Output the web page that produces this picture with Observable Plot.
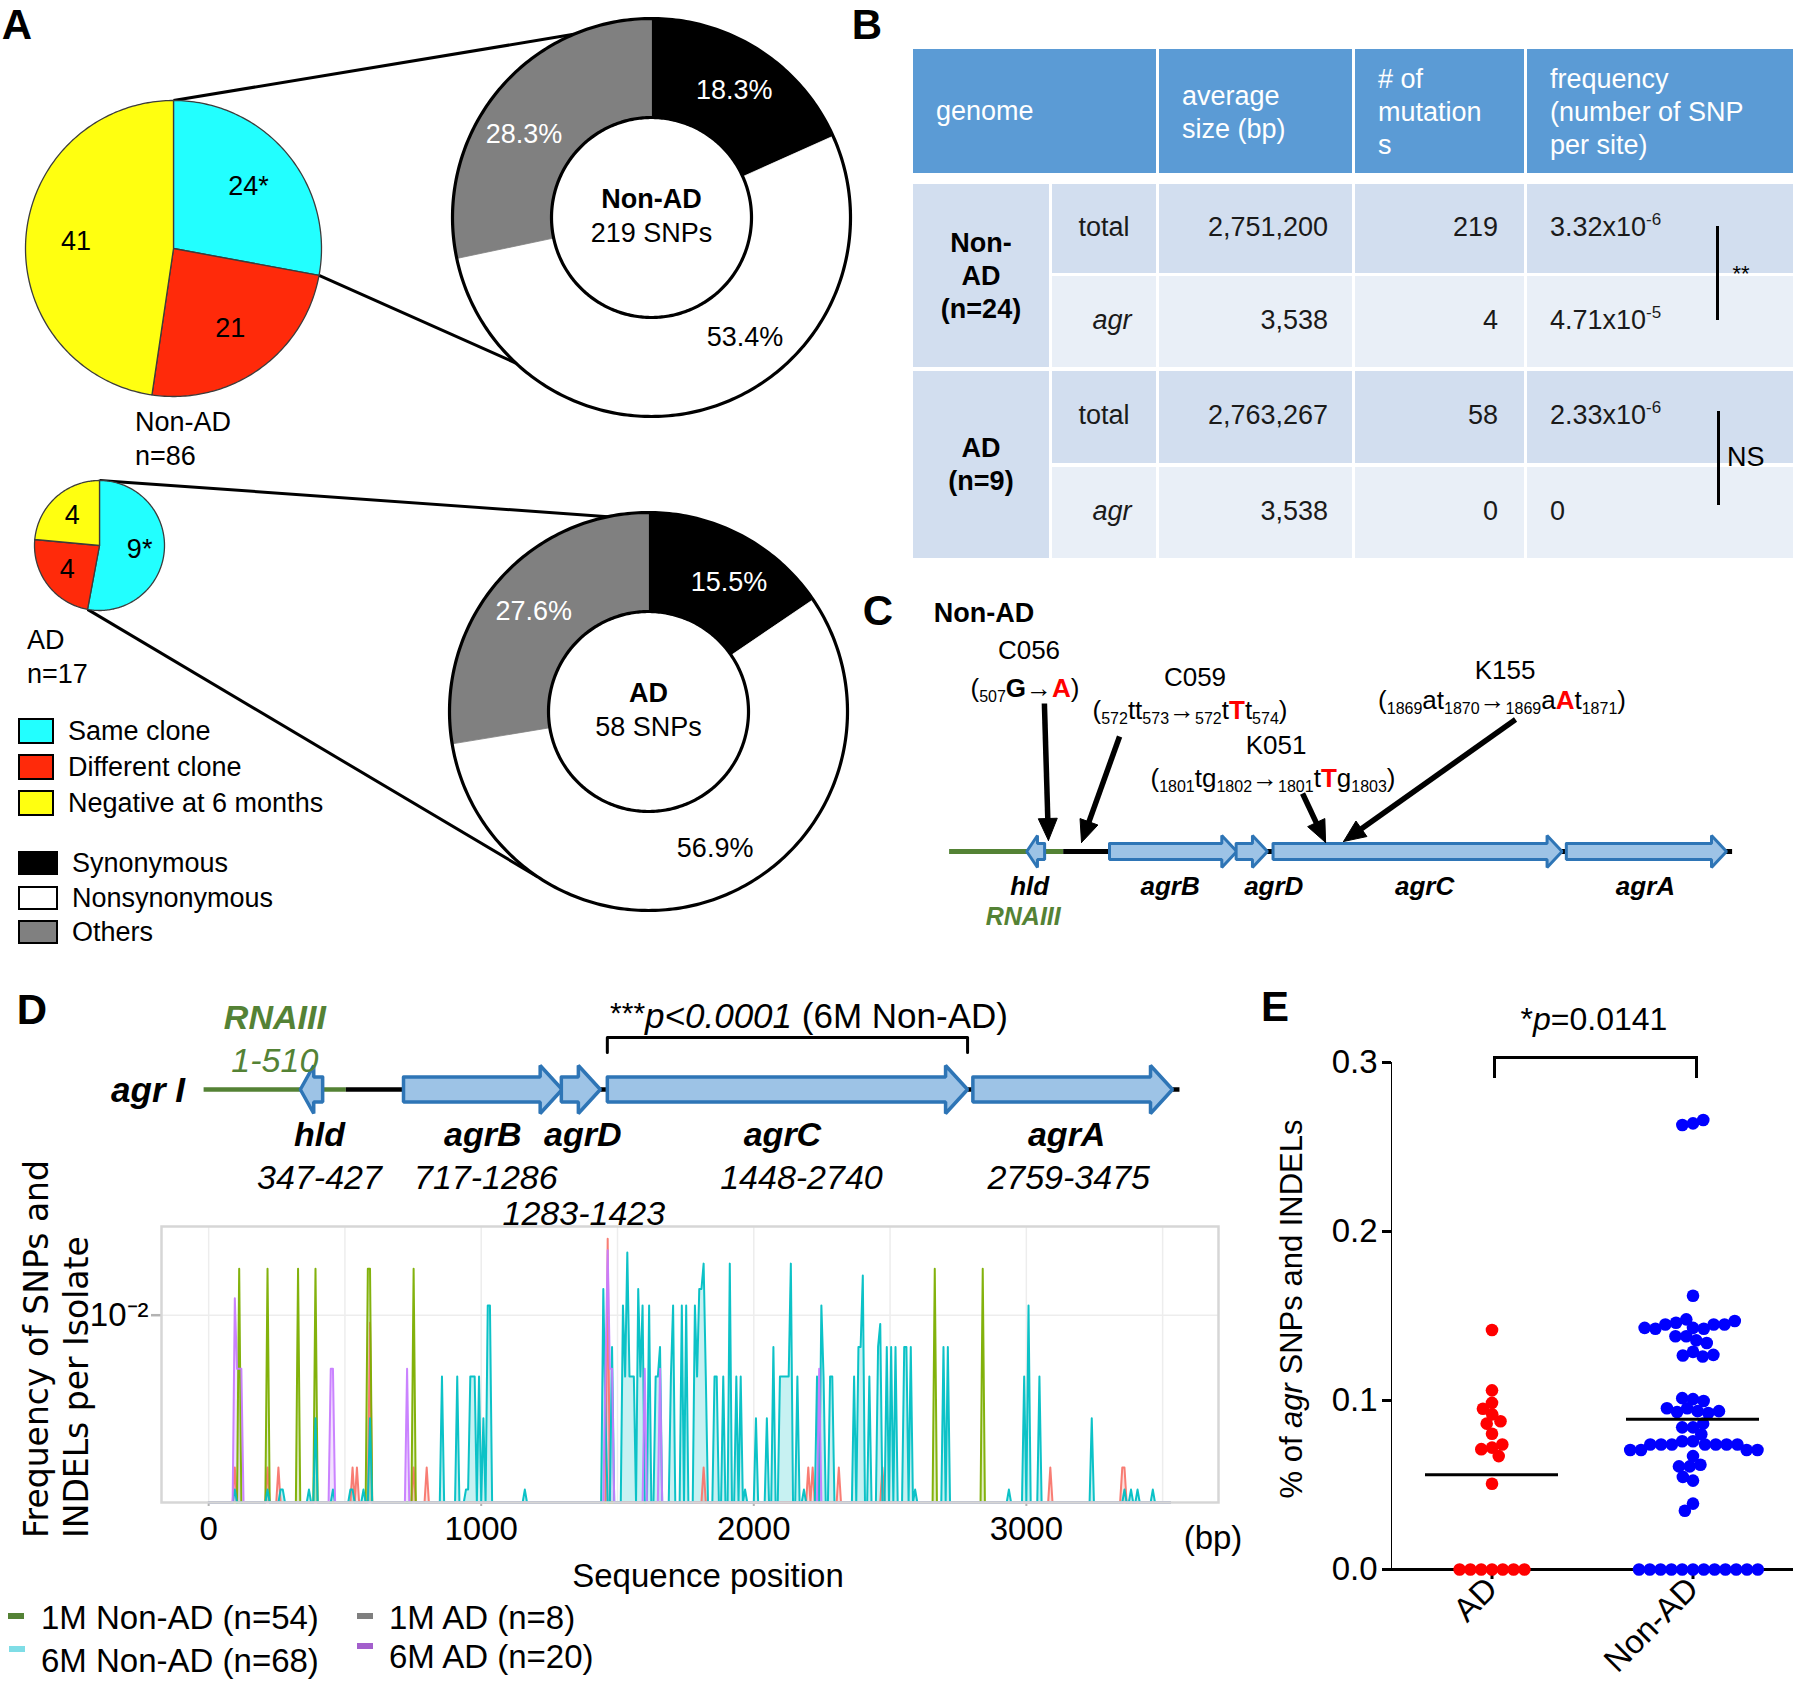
<!DOCTYPE html>
<html>
<head>
<meta charset="utf-8">
<title>agr mutations in AD / Non-AD isolates</title>
<script src="https://cdn.jsdelivr.net/npm/d3@7"></script>
<script src="https://cdn.jsdelivr.net/npm/@observablehq/plot@0.6"></script>
<style>
  html, body { margin: 0; padding: 0; background: #fff; }
  #fig { position: relative; width: 1800px; height: 1690px; overflow: hidden; background: #fff;
         font-family: "Liberation Sans", Arial, Helvetica, sans-serif; color: #000; }
  #fig .t { position: absolute; white-space: nowrap; line-height: 1; }
  #fig .t sub { font-size: 16px; vertical-align: -5px; line-height: 0; }
  #fig .t sup { font-size: 17px; vertical-align: 11px; line-height: 0; }
  #fig .box { position: absolute; box-sizing: border-box; }
  #fig .pw { position: absolute; }
  #fig .pw svg { display: block; overflow: visible; max-width: none; }
  #plotE [aria-label^="y-axis"] path, #plotE [aria-label^="y-axis"] line,
  #plotE [aria-label^="fx-axis"] path, #plotE [aria-label^="fx-axis"] line { stroke-width: 3px; }
  #plotD [aria-label^="y-axis tick"] path, #plotD [aria-label^="y-axis tick"] line { stroke: #b3b3b3; stroke-width: 2.5px; }
  #plotD [aria-label^="x-axis tick"] path, #plotD [aria-label^="x-axis tick"] line { stroke: #b3b3b3; stroke-width: 2px; }
</style>
</head>
<body>
<div id="fig"></div>
<script>
// ===================== DATA =====================
// ---- Panel A : clone outcome pies and SNP type donuts ----
const groupNames = ["Non-AD", "AD"];
const groupTotals = [86, 17];
const cloneCategories = ["Same clone", "Different clone", "Negative at 6 months"];
const cloneColors = ["#22FFFF", "#FF2A0A", "#FFFF10"];
const cloneNonAD = [24, 21, 41];
const cloneAD = [9, 4, 4];
const cloneMarks = ["*", "", ""];
const mutCategories = ["Synonymous", "Nonsynonymous", "Others"];
const mutColors = ["#000000", "#FFFFFF", "#808080"];
const mutLabelColors = ["#FFFFFF", "#000000", "#FFFFFF"];
const mutNonAD = [18.3, 53.4, 28.3];
const mutAD = [15.5, 56.9, 27.6];
const snpTotals = [219, 58];

// ---- Panel B : table ----
const tableHeaderLines = [["genome"], ["average", "size (bp)"], ["# of", "mutation", "s"], ["frequency", "(number of SNP", "per site)"]];
const tableGroups = [["Non-", "AD", "(n=24)"], ["AD", "(n=9)"]];
const tableRowType = ["total", "agr", "total", "agr"];
const tableSize = ["2,751,200", "3,538", "2,763,267", "3,538"];
const tableMutations = [219, 4, 58, 0];
const tableFreqBase = ["3.32x10", "4.71x10", "2.33x10", "0"];
const tableFreqExp = ["-6", "-5", "-6", ""];
const tableSig = ["**", "NS"];

// ---- Panels C / D : agr locus ----
const geneNames = ["hld", "agrB", "agrD", "agrC", "agrA"];
const geneStart = [347, 717, 1283, 1448, 2759];
const geneEnd = [427, 1286, 1423, 2740, 3475];
const geneStrand = [-1, 1, 1, 1, 1];
const rnaIII = [1, 510];
const locusEnd = 3500;
const mutIsolates = ["C056", "C059", "K051", "K155"];
const mutChanges = [
  "(<sub>507</sub><b>G</b>→<b style='color:#f00'>A</b>)",
  "(<sub>572</sub>tt<sub>573</sub>→<sub>572</sub>t<b style='color:#f00'>T</b>t<sub>574</sub>)",
  "(<sub>1801</sub>tg<sub>1802</sub>→<sub>1801</sub>t<b style='color:#f00'>T</b>g<sub>1803</sub>)",
  "(<sub>1869</sub>at<sub>1870</sub>→<sub>1869</sub>a<b style='color:#f00'>A</b>t<sub>1871</sub>)"
];

// ---- Panel D : SNP / INDEL frequency along agr (position bp, frequency) ----
const seriesNames = ["1M AD", "1M Non-AD", "6M Non-AD", "6M AD"];
const seriesColors = ["#F8766D", "#7CAE00", "#00BFC4", "#C77CFF"];
const spikes1MAD = [[96,.00228],[216,.00228],[256,.00228],[528,.00228],[544,.00228],[592,.00929],[752,.00228],[800,.00228],
  [1464,.0210],[1816,.00228],[2200,.00228],[2216,.00228],[2312,.00228],[2472,.00228],[3088,.00228],[3352,.00228],[3360,.00228]];
const spikes1MNonAD = [[112,.0157],[216,.0157],[328,.0157],[392,.0157],[584,.0157],[592,.0157],[752,.0157],[2664,.0157],[2840,.0157]];
const spikes6MNonAD = [[96,.00184],[216,.00184],[264,.00184],[272,.00184],[368,.00184],[392,.00368],[456,.00184],[520,.00184],[528,.00184],[568,.00184],[592,.00368],
  [856,.00551],[912,.00551],[944,.00184],[952,.00184],[960,.00551],[968,.00551],[976,.00551],[992,.00551],[1008,.00368],[1024,.0110],[1032,.0110],[1160,.00184],
  [1448,.0129],[1456,.00368],[1480,.00735],[1520,.0110],[1528,.00551],[1536,.0184],[1544,.00551],[1552,.00551],[1560,.00551],[1576,.0129],[1584,.00551],[1592,.0110],
  [1616,.0110],[1640,.00551],[1648,.00551],[1656,.00735],[1696,.00551],[1704,.0110],[1736,.0110],[1752,.0110],
  [1784,.0110],[1792,.00551],[1800,.0129],[1808,.0129],[1816,.0165],[1824,.00551],[1856,.00551],[1864,.00551],[1888,.00551],[1912,.0165],[1936,.00551],[1952,.00551],
  [1968,.00184],[2008,.00368],[2048,.00368],[2072,.00735],[2096,.00551],[2104,.00551],[2112,.00551],[2120,.00551],[2128,.00551],[2136,.0165],[2160,.00551],[2184,.00184],
  [2232,.00551],[2248,.0110],[2256,.00551],[2280,.00551],[2288,.00551],[2368,.00551],[2384,.00735],[2392,.00735],[2400,.0147],[2424,.00551],[2456,.00735],[2464,.00919],
  [2488,.00735],[2504,.00735],[2520,.00735],[2552,.00735],[2560,.00735],[2576,.00735],[2592,.00184],[2696,.00735],[2712,.00735],
  [2936,.00184],[2992,.00551],[3008,.0110],[3048,.00551],[3240,.00368],[3360,.00184],[3384,.00184],[3408,.00184],[3464,.00184]];
const spikes6MAD = [[96,.0118],[104,.00594],[112,.00594],[120,.00594],[448,.00594],[456,.00594],[728,.00594],
  [1456,.00594],[1464,.0188],[1472,.00594],[1480,.00594],[1600,.00594],[1656,.00594],[2240,.00594]];
const binWidth = 8;
const xTicksD = [0, 1000, 2000, 3000];
const yTicksD = [0.01];
const legendDLabels = ["1M Non-AD (n=54)", "6M Non-AD (n=68)", "1M AD (n=8)", "6M AD (n=20)"];
const legendDColors = ["#548235", "#7FDDE6", "#7F7F7F", "#A35FCC"];

// ---- Panel E : % of agr SNPs and INDELs per isolate ----
const groupsE = ["AD", "Non-AD"];
const colorsE = ["#FF0000", "#0000FF"];
const valuesAD = [0.1417, 0.106, 0.0986, 0.0951, 0.0918, 0.0863, 0.0877, 0.0803, 0.0721, 0.0712, 0.074, 0.0671, 0.0507,
  0, 0, 0, 0, 0, 0, 0];
const valuesNonAD = [0.264, 0.263, 0.266, 0.162,
  0.143, 0.148, 0.1425, 0.146, 0.145, 0.145, 0.145, 0.1425, 0.147, 0.143,
  0.138, 0.1356, 0.138, 0.134, 0.1288, 0.1266, 0.126, 0.127,
  0.1008, 0.0954, 0.0937, 0.0926, 0.0932, 0.0937, 0.0954, 0.0997, 0.1014,
  0.0841, 0.0841, 0.0863, 0.080,
  0.0759, 0.0759, 0.074, 0.074, 0.074, 0.074, 0.074, 0.074, 0.074, 0.0707, 0.0707, 0.0707, 0.0707, 0.0671,
  0.061, 0.062, 0.061, 0.0526, 0.0548, 0.039, 0.0348,
  0, 0, 0, 0, 0, 0, 0, 0, 0, 0, 0, 0];
const yTicksE = [0, 0.1, 0.2, 0.3];
const pValueE = "0.0141";

// ===================== HELPERS =====================
const SANS = '"Liberation Sans", Arial, Helvetica, sans-serif';
const DEJAVU = '"DejaVu Sans", Verdana, sans-serif';
const fig = document.getElementById("fig");
const rad = Math.PI / 180;

function txt(html, x, y, o = {}) {
  const d = document.createElement("div");
  d.className = "t";
  d.innerHTML = html;
  const s = d.style;
  s.left = x + "px"; s.top = y + "px";
  s.fontSize = (o.size || 27) + "px";
  if (o.weight) s.fontWeight = o.weight;
  if (o.italic) s.fontStyle = "italic";
  if (o.color) s.color = o.color;
  if (o.family) s.fontFamily = o.family;
  const a = o.anchor || "middle";
  const tx = a === "middle" ? "-50%" : a === "end" ? "-100%" : "0";
  s.transform = `translate(${tx},-50%)` + (o.rotate ? ` rotate(${o.rotate}deg)` : "");
  fig.appendChild(d);
  return d;
}
function box(x0, y0, x1, y1, css) {
  const d = document.createElement("div");
  d.className = "box";
  d.style.cssText = `left:${x0}px;top:${y0}px;width:${x1 - x0}px;height:${y1 - y0}px;` + css;
  fig.appendChild(d);
  return d;
}
function mount(plot, left, top, width, id) {
  const w = document.createElement("div");
  w.className = "pw";
  if (id) w.id = id;
  w.style.left = left + "px"; w.style.top = top + "px"; w.style.width = width + "px";
  w.appendChild(plot);
  fig.appendChild(w);
}
const plotStyle = (size) => ({fontFamily: SANS, fontSize: size + "px", background: "transparent", color: "#000", overflow: "visible"});

// ===================== PANEL B (table backgrounds first) =====================
const TB = {cols: [[913, 1049], [1052, 1156], [1159, 1352], [1355, 1524], [1527, 1793]],
            header: [49, 173], rows: [[184, 273], [276, 367], [371, 463], [467, 558]],
            blue: "#5B9BD5", dark: "#D2DEEF", light: "#E9EFF7"};
box(TB.cols[0][0], TB.header[0], TB.cols[1][1], TB.header[1], `background:${TB.blue}`);
for (let c = 2; c < 5; c++) box(TB.cols[c][0], TB.header[0], TB.cols[c][1], TB.header[1], `background:${TB.blue}`);
box(TB.cols[0][0], TB.rows[0][0], TB.cols[0][1], TB.rows[1][1], `background:${TB.dark}`);
box(TB.cols[0][0], TB.rows[2][0], TB.cols[0][1], TB.rows[3][1], `background:${TB.dark}`);
TB.rows.forEach((r, i) => {
  for (let c = 1; c < 5; c++) box(TB.cols[c][0], r[0], TB.cols[c][1], r[1], `background:${i % 2 === 0 ? TB.dark : TB.light}`);
});

// ===================== PANEL A =====================
const layoutA = [
  {pie: {cx: 173, cy: 248, r: 148, labelR: 0.66}, donut: {cx: 651, cy: 217, r: 199, r0: 100},
   link: [-23, 223], mutLabelAngles: [33, 142, 303], groupLabel: [135, 422]},
  {pie: {cx: 99, cy: 545, r: 65, labelR: 0.62}, donut: {cx: 648, cy: 711, r: 199, r0: 100},
   link: [-11.7, 213.8], mutLabelAngles: [32, 154, 311], groupLabel: [27, 640]}
];
function polar(cx, cy, r, a) { return [cx + r * Math.sin(a), cy - r * Math.cos(a)]; }
function arcPts(cx, cy, r, a0, a1) {
  const n = Math.max(2, Math.ceil(Math.abs(a1 - a0) / rad));
  return d3.range(n + 1).map(i => polar(cx, cy, r, a0 + (a1 - a0) * i / n));
}
const pieRows = [], donutRows = [], ringRows = [], linkRows = [], textRows = [], boldRows = [];
[[cloneNonAD, mutNonAD], [cloneAD, mutAD]].forEach(([clone, mut], g) => {
  const L = layoutA[g];
  const {cx, cy, r} = L.pie;
  const pa = d3.pie().sort(null)(clone);
  pa.forEach((a, i) => {
    const pts = [[cx, cy], ...arcPts(cx, cy, r, a.startAngle, a.endAngle), [cx, cy]];
    pts.forEach(([x, y]) => pieRows.push({id: `p${g}-${i}`, x, y, fill: cloneColors[i]}));
    const [tx, ty] = polar(cx, cy, r * L.pie.labelR, (a.startAngle + a.endAngle) / 2);
    textRows.push({x: tx, y: ty, text: clone[i] + cloneMarks[i], fill: "#000"});
  });
  const D = L.donut;
  const da = d3.pie().sort(null)(mut);
  da.forEach((a, i) => {
    const pts = [...arcPts(D.cx, D.cy, D.r, a.startAngle, a.endAngle), ...arcPts(D.cx, D.cy, D.r0, a.endAngle, a.startAngle)];
    pts.push(pts[0]);
    pts.forEach(([x, y]) => donutRows.push({id: `d${g}-${i}`, x, y, fill: mutColors[i]}));
    const [tx, ty] = polar(D.cx, D.cy, 152, L.mutLabelAngles[i] * rad);
    textRows.push({x: tx, y: ty, text: d3.format(".1f")(mut[i]) + "%", fill: mutLabelColors[i]});
  });
  [D.r, D.r0].forEach((rr, k) => arcPts(D.cx, D.cy, rr, 0, 2 * Math.PI).forEach(([x, y]) => ringRows.push({id: `r${g}-${k}`, x, y})));
  [pa[0].startAngle, pa[0].endAngle].forEach((a, k) => {
    const [x1, y1] = polar(cx, cy, r, a);
    const [x2, y2] = polar(D.cx, D.cy, D.r, L.link[k] * rad);
    linkRows.push({x1, y1, x2, y2});
  });
  boldRows.push({x: D.cx, y: D.cy - 18, text: groupNames[g]});
  textRows.push({x: D.cx, y: D.cy + 16, text: `${snpTotals[g]} SNPs`, fill: "#000"});
});

const plotA = Plot.plot({
  width: 860, height: 960, margin: 0,
  x: {domain: [0, 860], range: [0, 860], axis: null},
  y: {domain: [0, 960], range: [0, 960], axis: null},
  color: {type: "identity"},
  style: plotStyle(27),
  marks: [
    Plot.link(linkRows, {x1: "x1", y1: "y1", x2: "x2", y2: "y2", stroke: "#000", strokeWidth: 3}),
    Plot.line(pieRows, {x: "x", y: "y", z: "id", fill: "fill", stroke: "#3c3c3c", strokeWidth: 1.3}),
    Plot.line(donutRows, {x: "x", y: "y", z: "id", fill: "fill", stroke: "fill", strokeWidth: 0.8}),
    Plot.line(ringRows, {x: "x", y: "y", z: "id", stroke: "#000", strokeWidth: 3.2, fill: "none"}),
    Plot.text(textRows, {x: "x", y: "y", text: "text", fill: "fill", fontSize: 27}),
    Plot.text(boldRows, {x: "x", y: "y", text: "text", fill: "#000", fontSize: 27, fontWeight: "bold"})
  ]
});
mount(plotA, 0, 0, 860, "plotA");

// group labels + legends (panel A)
layoutA.forEach((L, g) => {
  txt(groupNames[g], L.groupLabel[0], L.groupLabel[1], {anchor: "start", size: 27});
  txt(`n=${groupTotals[g]}`, L.groupLabel[0], L.groupLabel[1] + 34, {anchor: "start", size: 27});
});
const legendCloneY = [731, 767, 803];
cloneCategories.forEach((c, i) => {
  box(18, legendCloneY[i] - 13, 54, legendCloneY[i] + 13, `background:${cloneColors[i]};border:2.5px solid #000`);
  txt(c, 68, legendCloneY[i], {anchor: "start", size: 27});
});
const legendMutY = [863, 898, 932];
mutCategories.forEach((c, i) => {
  box(18, legendMutY[i] - 12, 58, legendMutY[i] + 12, `background:${mutColors[i]};border:2.5px solid #000`);
  txt(c, 72, legendMutY[i], {anchor: "start", size: 27});
});

// ===================== PANEL B texts =====================
const headX = [936, 1182, 1378, 1550];
tableHeaderLines.forEach((lines, c) => {
  const y0 = lines.length === 1 ? 111 : lines.length === 2 ? 96 : 79;
  lines.forEach((l, k) => txt(l, headX[c], y0 + 33 * k, {anchor: "start", color: "#fff", size: 27}));
});
const rowY = TB.rows.map(r => (r[0] + r[1]) / 2 - 2);
tableRowType.forEach((t, i) => {
  if (t === "agr") txt(t, 1112, rowY[i], {italic: true, size: 27, color: "#1a1a1a"});
  else txt(t, 1104, rowY[i], {size: 27, color: "#1a1a1a"});
  txt(tableSize[i], 1328, rowY[i], {anchor: "end", size: 27, color: "#1a1a1a"});
  txt(String(tableMutations[i]), 1498, rowY[i], {anchor: "end", size: 27, color: "#1a1a1a"});
  txt(tableFreqBase[i] + (tableFreqExp[i] ? `<sup>${tableFreqExp[i]}</sup>` : ""), 1550, rowY[i], {anchor: "start", size: 27, color: "#1a1a1a"});
});
tableGroups.forEach((lines, g) => {
  const cy = (TB.rows[2 * g][0] + TB.rows[2 * g + 1][1]) / 2;
  lines.forEach((l, k) => txt(l, 981, cy - (lines.length - 1) * 16.5 + 33 * k, {weight: "bold", size: 27}));
});
box(1715.5, 226, 1718.5, 320, "background:#000");
txt(tableSig[0], 1741, 274, {size: 22});
box(1716.5, 411, 1719.5, 505, "background:#000");
txt(tableSig[1], 1727, 457, {anchor: "start", size: 27});

// ===================== gene shape helper =====================
function geneShape(i, yc, bh, hh, headPx, pxPerBp, tag) {
  const s = geneStart[i], e = geneEnd[i], len = e - s;
  const hl = Math.min(headPx / pxPerBp, len * 0.6);
  const pts = geneStrand[i] > 0
    ? [[s, yc - bh], [e - hl, yc - bh], [e - hl, yc - hh], [e, yc], [e - hl, yc + hh], [e - hl, yc + bh], [s, yc + bh], [s, yc - bh]]
    : [[e, yc - bh], [s + hl, yc - bh], [s + hl, yc - hh], [s, yc], [s + hl, yc + hh], [s + hl, yc + bh], [e, yc + bh], [e, yc - bh]];
  return pts.map(([x, y]) => ({id: tag + i, x, y}));
}
const geneMid = i => (geneStart[i] + geneEnd[i]) / 2;
const rnaColor = "#548235";

// ===================== PANEL C =====================
const C = {left: 860, top: 600, width: 940, height: 340, r0: 88.6, r1: 866, lineY: 251, bh: 8, hh: 16, head: 15,
           nameY: 286, rnaY: 316, nameDx: [-6, -3, 22, 7, -1], rnaDx: 17};
const bpC = (C.r1 - C.r0) / geneEnd[geneEnd.length - 1];
const geneRowsC = geneNames.flatMap((_, i) => geneShape(i, C.lineY, C.bh, C.hh, C.head, bpC, "c"));
const locusRows = [{x1: 0, x2: rnaIII[1], color: rnaColor}, {x1: rnaIII[1], x2: locusEnd, color: "#000"}];
// annotation arrows (x in bp, y in panel px)
const mutArrowsC = [{x1: 426, y1: 103, x2: 444, y2: 240}, {x1: 762, y1: 136, x2: 592, y2: 242},
                    {x1: 1580, y1: 193, x2: 1683, y2: 242}, {x1: 2532, y1: 119, x2: 1763, y2: 241}];
const shaftRowsC = [], headRowsC = [];
mutArrowsC.forEach((a, k) => {
  const X1 = C.r0 + a.x1 * bpC, X2 = C.r0 + a.x2 * bpC;
  const dx = X2 - X1, dy = a.y2 - a.y1, len = Math.hypot(dx, dy), ux = dx / len, uy = dy / len;
  const hl = 22, hw = 9.5;
  const bx = X2 - ux * hl, by = a.y2 - uy * hl;
  const toBp = px => (px - C.r0) / bpC;
  shaftRowsC.push({x1: a.x1, y1: a.y1, x2: toBp(bx + ux * 3), y2: by + uy * 3});
  [[X2, a.y2], [bx - uy * hw, by + ux * hw], [bx + uy * hw, by - ux * hw], [X2, a.y2]]
    .forEach(([x, y]) => headRowsC.push({id: k, x: toBp(x), y}));
});
const plotC = Plot.plot({
  width: C.width, height: C.height, margin: 0,
  x: {domain: [0, geneEnd[geneEnd.length - 1]], range: [C.r0, C.r1], axis: null},
  y: {domain: [0, C.height], range: [0, C.height], axis: null},
  color: {type: "identity"},
  style: plotStyle(26),
  marks: [
    Plot.link(locusRows, {x1: "x1", x2: "x2", y1: () => C.lineY, y2: () => C.lineY, stroke: "color", strokeWidth: 5}),
    Plot.line(geneRowsC, {x: "x", y: "y", z: "id", fill: "#9DC3E6", stroke: "#2E75B6", strokeWidth: 3, strokeLinejoin: "miter"}),
    Plot.link(shaftRowsC, {x1: "x1", y1: "y1", x2: "x2", y2: "y2", stroke: "#000", strokeWidth: 5.5}),
    Plot.line(headRowsC, {x: "x", y: "y", z: "id", fill: "#000", stroke: "#000", strokeWidth: 1}),
    Plot.text(geneNames, {x: (d, i) => geneMid(i) + C.nameDx[i] / bpC, y: () => C.nameY, text: d => d,
      fontSize: 26, fontWeight: "bold", fontStyle: "italic", fill: "#000"}),
    Plot.text(["RNAIII"], {x: () => (rnaIII[0] + rnaIII[1]) / 2 + C.rnaDx / bpC, y: () => C.rnaY, text: d => d,
      fontSize: 25, fontWeight: "bold", fontStyle: "italic", fill: rnaColor})
  ]
});
mount(plotC, C.left, C.top, C.width, "plotC");
txt("Non-AD", 984, 613, {weight: "bold", size: 27});
const mutLabelPos = [[1029, 650, 1025, 688], [1195, 677, 1190, 710], [1276, 745, 1273, 778], [1505, 670, 1502, 700]];
mutIsolates.forEach((m, k) => {
  const p = mutLabelPos[k];
  txt(m, p[0], p[1], {size: 26});
  txt(mutChanges[k], p[2], p[3], {size: 26});
});

// ===================== PANEL D : locus map =====================
const DG = {left: 0, top: 990, width: 1250, height: 245, r0: 203.1, r1: 1172, lineY: 99, bh: 12.5, hh: 24, head: 22,
            nameY: 145, rangeY: 188, rangeY2: 224, rnaY: 28, rnaRangeY: 71, brY: 47, brTick: 15,
            nameDx: [8, 0, 2, -5, -6], rangeDx: [8, 3, 3, 14, -4]};
const bpD = (DG.r1 - DG.r0) / geneEnd[geneEnd.length - 1];
const geneRowsD = geneNames.flatMap((_, i) => geneShape(i, DG.lineY, DG.bh, DG.hh, DG.head, bpD, "d"));
const agrCi = geneNames.indexOf("agrC");
const bracketD = [[geneStart[agrCi], DG.brY + DG.brTick], [geneStart[agrCi], DG.brY], [geneEnd[agrCi], DG.brY], [geneEnd[agrCi], DG.brY + DG.brTick]]
  .map(([x, y]) => ({x, y}));
const plotDG = Plot.plot({
  width: DG.width, height: DG.height, margin: 0,
  x: {domain: [0, geneEnd[geneEnd.length - 1]], range: [DG.r0, DG.r1], axis: null},
  y: {domain: [0, DG.height], range: [0, DG.height], axis: null},
  color: {type: "identity"},
  style: plotStyle(34),
  marks: [
    Plot.link(locusRows, {x1: "x1", x2: "x2", y1: () => DG.lineY, y2: () => DG.lineY, stroke: "color", strokeWidth: 4.5}),
    Plot.line(geneRowsD, {x: "x", y: "y", z: "id", fill: "#9DC3E6", stroke: "#2E75B6", strokeWidth: 3.5, strokeLinejoin: "miter"}),
    Plot.line(bracketD, {x: "x", y: "y", stroke: "#000", strokeWidth: 3}),
    Plot.text(geneNames, {x: (d, i) => geneMid(i) + DG.nameDx[i] / bpD, y: () => DG.nameY, text: d => d,
      fontSize: 34, fontWeight: "bold", fontStyle: "italic", fill: "#000"}),
    Plot.text(geneNames, {x: (d, i) => geneMid(i) + DG.rangeDx[i] / bpD, y: (d) => d === "agrD" ? DG.rangeY2 : DG.rangeY,
      text: (d, i) => `${geneStart[i]}-${geneEnd[i]}`, fontSize: 34, fontStyle: "italic", fill: "#000"}),
    Plot.text(["RNAIII"], {x: () => (rnaIII[0] + rnaIII[1]) / 2, y: () => DG.rnaY, text: d => d,
      fontSize: 34, fontWeight: "bold", fontStyle: "italic", fill: rnaColor}),
    Plot.text([rnaIII], {x: () => (rnaIII[0] + rnaIII[1]) / 2, y: () => DG.rnaRangeY, text: d => `${d[0]}-${d[1]}`,
      fontSize: 34, fontStyle: "italic", fill: rnaColor})
  ]
});
mount(plotDG, DG.left, DG.top, DG.width, "plotDG");
txt("agr I", 148, 1089, {weight: "bold", italic: true, size: 35});
txt("<span style='font-size:30px;position:relative;top:-5px'>***</span><i>p&lt;0.0001</i> (6M Non-AD)", 809, 1015, {size: 35});

// ===================== PANEL D : frequency profile =====================
const yMinD = 0.001623, yMaxD = 0.02366;
const grid = d3.range(0, 3529, binWidth);
const seriesSpikes = [spikes1MAD, spikes1MNonAD, spikes6MNonAD, spikes6MAD];
const seriesRows = seriesSpikes.map((sp, s) => {
  const m = new Map(sp);
  return grid.map(pos => {
    const f = m.get(pos) || 0;
    return {series: seriesNames[s], pos, freq: f, yv: f > 0 ? f : yMinD};
  });
});
const profileMarks = [];
seriesRows.forEach((rows, s) => {
  profileMarks.push(Plot.areaY(rows, {x: "pos", y1: () => yMinD, y2: "yv", fill: seriesColors[s], fillOpacity: 0.22}));
});
seriesRows.forEach((rows, s) => {
  profileMarks.push(Plot.lineY(rows, {x: "pos", y: "yv", stroke: seriesColors[s], strokeWidth: 2, strokeOpacity: 0.95}));
});
const plotD = Plot.plot({
  width: 1250, height: 360, marginLeft: 161, marginRight: 32, marginTop: 26, marginBottom: 58,
  x: {domain: [-173, 3705], ticks: xTicksD, tickSize: 4, tickPadding: 10, tickFormat: d3.format("d"), label: null},
  y: {type: "log", domain: [yMinD, yMaxD], ticks: yTicksD, tickFormat: () => "10⁻²", tickSize: 10, tickPadding: 3, label: null},
  style: plotStyle(33),
  marks: [
    Plot.ruleX(d3.range(0, 3501, 500), {stroke: "#EDEDED", strokeWidth: 1.5}),
    Plot.ruleY(yTicksD, {stroke: "#EDEDED", strokeWidth: 1.5}),
    ...profileMarks,
    Plot.frame({stroke: "#D6D6D6", strokeWidth: 2.5})
  ]
});
mount(plotD, 0, 1200, 1250, "plotD");
// axis titles
const yTitleD = document.createElement("div");
yTitleD.className = "t";
yTitleD.style.cssText = `left:17px;top:1538px;font-size:33px;line-height:40px;font-family:${DEJAVU};transform-origin:0 0;transform:rotate(-90deg);`;
yTitleD.innerHTML = "Frequency of SNPs and<br>INDELs per Isolate";
fig.appendChild(yTitleD);
txt("Sequence position", 708, 1575, {size: 33});
txt("(bp)", 1213, 1537, {size: 33});
// legend
const legendDPos = [[8, 1613, 41, 1617], [9, 1646, 41, 1660], [357, 1613, 389, 1617], [357, 1643, 389, 1656]];
legendDLabels.forEach((l, i) => {
  const p = legendDPos[i];
  box(p[0], p[1], p[0] + 16, p[1] + 6, `background:${legendDColors[i]}`);
  txt(l, p[2], p[3], {anchor: "start", size: 33});
});

// ===================== PANEL E =====================
const dataE = [...valuesAD.map(v => ({group: groupsE[0], value: v, color: colorsE[0]})),
               ...valuesNonAD.map(v => ({group: groupsE[1], value: v, color: colorsE[1]}))];
const meansE = groupsE.map(g => ({group: g, value: d3.mean(dataE.filter(d => d.group === g), d => d.value)}));
const plotE = Plot.plot({
  width: 540, height: 660, marginLeft: 130, marginRight: 7, marginTop: 32, marginBottom: 121,
  fx: {domain: groupsE, padding: 0, label: null, axis: "bottom", tickRotate: -45, tickSize: 10, tickPadding: 4},
  y: {domain: [0, 0.3], ticks: yTicksE, tickFormat: d3.format(".1f"), tickSize: 9, tickPadding: 5, label: null, line: true},
  color: {type: "identity"},
  style: plotStyle(33),
  marks: [
    Plot.ruleY([0], {stroke: "#000", strokeWidth: 3}),
    Plot.dot(dataE, Plot.dodgeX({anchor: "middle", padding: -1.8}, {fx: "group", y: "value", r: 6.3, fill: "color", stroke: "none"})),
    Plot.ruleY(meansE, {fx: "group", y: "value", stroke: "#000", strokeWidth: 3, insetLeft: 34, insetRight: 34})
  ]
});
mount(plotE, 1260, 1030, 540, "plotE");
box(1492.5, 1055.5, 1697.5, 1078, "border:3px solid #000;border-bottom:none");
txt(`*<i>p</i>=${pValueE}`, 1594, 1019, {size: 32});
txt("% of <i>agr</i> SNPs and INDELs", 1291, 1309, {size: 31, rotate: -90});

// ===================== panel letters =====================
[["A", 17, 25], ["B", 867, 25], ["C", 878, 611], ["D", 32, 1010], ["E", 1275, 1007]]
  .forEach(([l, x, y]) => txt(l, x, y, {weight: "bold", size: 42}));
</script>
</body>
</html>
